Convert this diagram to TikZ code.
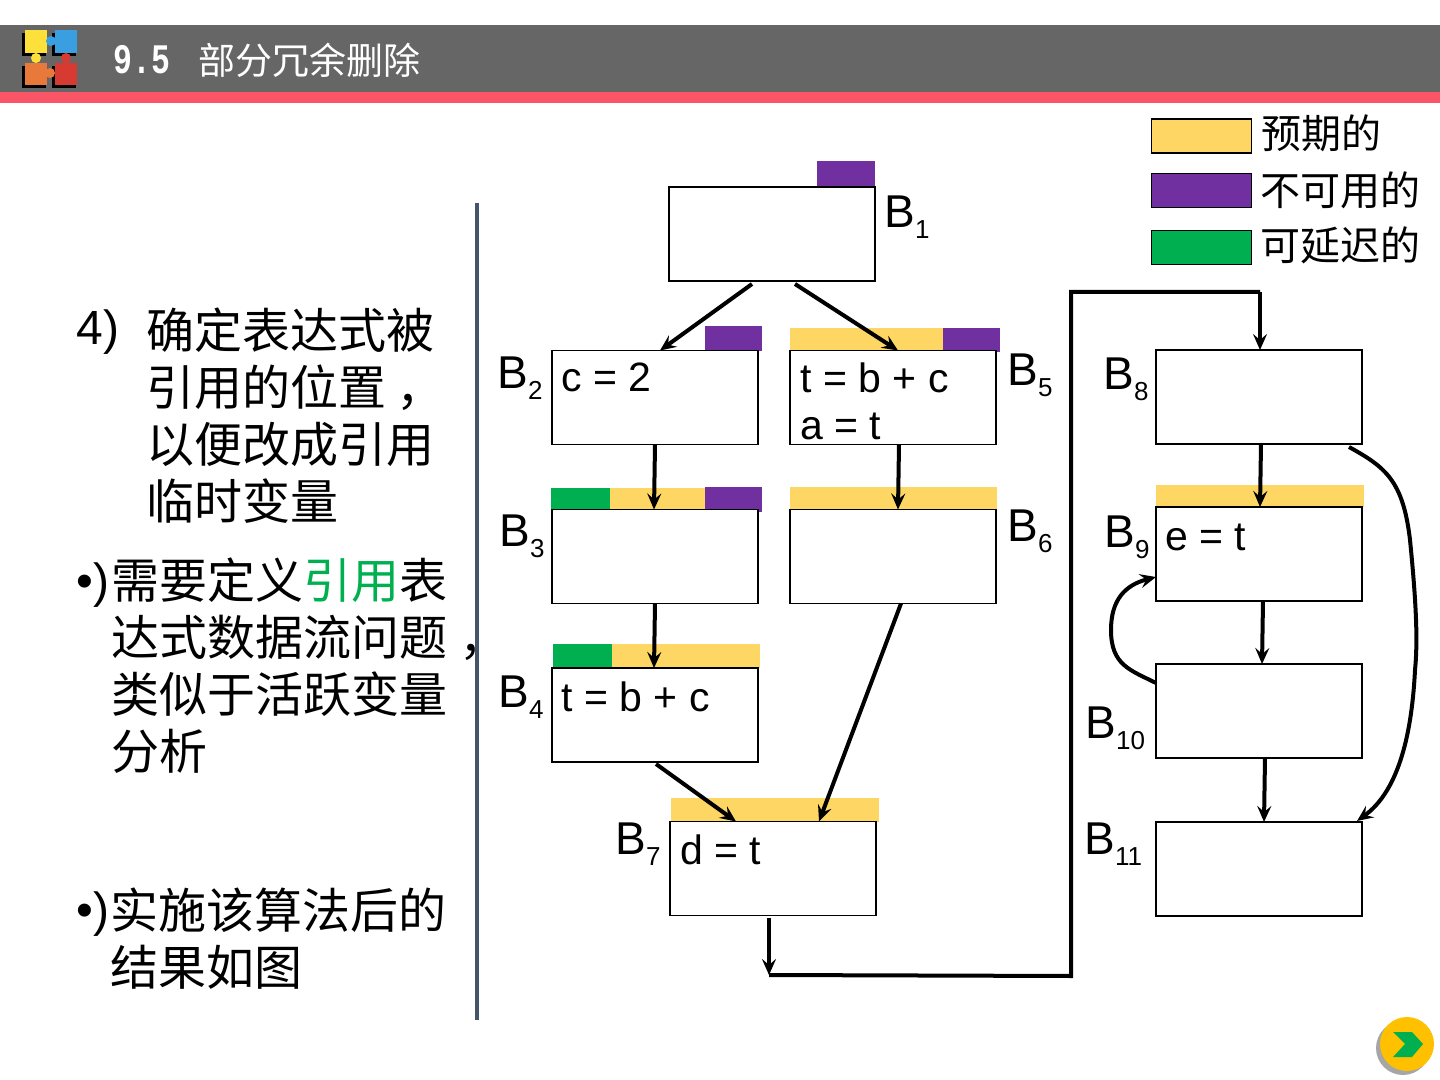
\documentclass[tikz,border=0pt]{standalone}
\usepackage{fontspec}
\setmainfont{Liberation Sans}
\newfontfamily\cjk{Noto Sans CJK SC}
\newfontfamily\titlemono[FakeStretch=0.75]{Liberation Mono}
\usetikzlibrary{arrows.meta,calc}

\definecolor{expected}{HTML}{FDD663}
\definecolor{unavailable}{HTML}{7030A0}
\definecolor{postponable}{HTML}{00B050}
\definecolor{headergray}{HTML}{666666}
\definecolor{headerred}{HTML}{F95566}
\definecolor{rulecolor}{HTML}{44546A}
\definecolor{logoyellow}{HTML}{FDE13A}
\definecolor{logoblue}{HTML}{3A9FE0}
\definecolor{logoorange}{HTML}{E8793A}
\definecolor{logored}{HTML}{D63A30}
\definecolor{buttongold}{HTML}{FFC000}

\newcommand{\blocklabel}[1]{B\raisebox{-5.5pt}{\fontsize{13}{13}\selectfont #1}}

\begin{document}
\begin{tikzpicture}[x=0.5pt, y=-0.5pt,
  blockbox/.style={draw, line width=0.8pt, fill=white, minimum width=103pt, minimum height=47pt, inner sep=0pt, outer sep=0pt},
  heavybox/.style={blockbox, line width=1.2pt},
  blockname/.style={anchor=base west, inner sep=0pt, font=\fontsize{23}{23}\selectfont},
  codeline/.style={anchor=base west, inner sep=0pt, font=\fontsize{20.5}{20.5}\selectfont},
  bodytext/.style={anchor=north west, inner sep=0pt, align=left, font=\cjk\fontsize{24}{28.5}\selectfont},
  bodymark/.style={anchor=base west, inner sep=0pt, font=\fontsize{24}{24}\selectfont},
  legendbox/.style={draw, line width=0.7pt, minimum width=50pt, minimum height=17pt, inner sep=0pt},
  legendtext/.style={anchor=west, inner sep=0pt, font=\cjk\fontsize{20}{20}\selectfont},
  flow/.style={line width=2pt, -{Stealth[length=8pt, width=7pt, inset=3pt]}},
  flowline/.style={line width=2pt}]
  \useasboundingbox (0,0) rectangle (1440,1080);

  % header
  \fill[headergray] (0,25) rectangle (1440,92);
  \fill[headerred] (0,92) rectangle (1440,103);
  \fill[black] (22,33) rectangle (46,56);
  \fill[black] (52,33) rectangle (76,56);
  \fill[black] (22,66) rectangle (46,88);
  \fill[black] (52,66) rectangle (76,88);
  \fill[logoyellow] (25,30) rectangle (47,53);
  \fill[logoblue] (55,30) rectangle (77,53);
  \fill[logoorange] (25,63) rectangle (47,85);
  \fill[logored] (55,63) rectangle (77,85);
  \fill[logoyellow] (36,58) circle (5);
  \fill[logoblue] (51,41) circle (5);
  \fill[logoorange] (50,73) circle (5);
  \fill[logored] (66,58) circle (5);
  \node[anchor=west, inner sep=0pt, text=white, font=\titlemono\bfseries\fontsize{21}{21}\selectfont] (chapter) at (113,60) {9.5};
  \node[anchor=west, inner sep=0pt, text=white, font=\cjk\fontsize{18.5}{18.5}\selectfont] (title) at (198,60) {部分冗余删除};

  % left column
  \node[bodymark] (num4) at (76,345) {4)};
  \node[bodytext] (step4) at (146,307) {确定表达式被\\引用的位置\kern5pt ，\\以便改成引用\\临时变量};
  \node[bodymark] (dot1) at (76,597) {•)};
  \node[bodytext] (para1) at (111,557) {需要定义\textcolor{postponable}{引用}表\\达式数据流问题\kern6pt ，\\类似于活跃变量\\分析};
  \node[bodymark] (dot2) at (76,926) {•)};
  \node[bodytext] (para2) at (110,887) {实施该算法后的\\结果如图};
  \draw[rulecolor, line width=2pt] (477,203) -- (477,1020);

  % legend
  \node[legendbox, fill=expected] (legend1) at (1201.5,136) {};
  \node[legendbox, fill=unavailable] (legend2) at (1201.5,190.5) {};
  \node[legendbox, fill=postponable] (legend3) at (1201.5,247.5) {};
  \node[legendtext] (legendname1) at (1261,133) {预期的};
  \node[legendtext] (legendname2) at (1260,190) {不可用的};
  \node[legendtext] (legendname3) at (1260,245) {可延迟的};

  % bars over the blocks
  \fill[unavailable] (817,161) rectangle (875,187);
  \fill[unavailable] (705,326) rectangle (762,351);
  \fill[expected] (790,328) rectangle (943,351);
  \fill[unavailable] (943,328) rectangle (1000,352);
  \fill[postponable] (551,488) rectangle (610,511);
  \fill[expected] (610,488) rectangle (705,510);
  \fill[unavailable] (705,487) rectangle (762,512);
  \fill[expected] (790,487) rectangle (997,510);
  \fill[postponable] (553,644) rectangle (612,668);
  \fill[expected] (612,644) rectangle (760,668);
  \fill[expected] (671,798) rectangle (879,822);
  \fill[expected] (1156,485) rectangle (1364,507);

  % blocks
  \node[heavybox] (B1) at (772,234) {};
  \node[blockbox] (B2) at (655,397.5) {};
  \node[blockbox] (B3) at (655,556.5) {};
  \node[blockbox] (B4) at (655,715) {};
  \node[blockbox] (B5) at (893,397.5) {};
  \node[blockbox] (B6) at (893,556.5) {};
  \node[blockbox] (B7) at (773,868.5) {};
  \node[heavybox] (B8) at (1259,397) {};
  \node[heavybox] (B9) at (1259,554) {};
  \node[heavybox] (B10) at (1259,711) {};
  \node[heavybox] (B11) at (1259,869) {};

  \node[blockname] (nameB1) at (884,228) {\blocklabel{1}};
  \node[blockname] (nameB2) at (497,389) {\blocklabel{2}};
  \node[blockname] (nameB3) at (499,546) {\blocklabel{3}};
  \node[blockname] (nameB4) at (498,707) {\blocklabel{4}};
  \node[blockname] (nameB5) at (1007,386) {\blocklabel{5}};
  \node[blockname] (nameB6) at (1007,541) {\blocklabel{6}};
  \node[blockname] (nameB7) at (615,854) {\blocklabel{7}};
  \node[blockname] (nameB8) at (1103,390) {\blocklabel{8}};
  \node[blockname] (nameB9) at (1104,547) {\blocklabel{9}};
  \node[blockname] (nameB10) at (1085,738) {\blocklabel{10}};
  \node[blockname] (nameB11) at (1084,854) {\blocklabel{11}};

  \node[codeline] (codeB2) at (561,392) {c = 2};
  \node[codeline] (codeB5a) at (800,393) {t = b + c};
  \node[codeline] (codeB5b) at (800,439) {a = t};
  \node[codeline] (codeB4) at (561,711) {t = b + c};
  \node[codeline] (codeB7) at (680,864) {d = t};
  \node[codeline] (codeB9) at (1165,550) {e = t};

  % connectors
  \coordinate (down7) at (769,975);
  \coordinate (turn1) at (1071,976);
  \coordinate (turn2) at (1071,292);
  \coordinate (turn3) at (1260,292);

  \draw[flow] ($(B1.south)+(-20,3)$) -- ($(B2.north)+(5,0)$);
  \draw[flow] ($(B1.south)+(23,3)$) -- ($(B5.north)+(5,0)$);
  \draw[flow] (B2.south) -- ($(B3.north)+(-1,0)$);
  \draw[flow] ($(B5.south)+(6,0)$) -- ($(B6.north)+(5,0)$);
  \draw[flow] (B3.south) -- ($(B4.north)+(-1,0)$);
  \draw[flow] ($(B6.south)+(8,0)$) -- ($(B7.north)+(46,0)$);
  \draw[flow] ($(B4.south)+(1,2)$) -- ($(B7.north)+(-37,0)$);
  \draw[flow] ($(B7.south)+(-4,2)$) -- (down7);
  \draw[flowline] (down7) -- (turn1) -- (turn2) -- (turn3);
  \draw[flow] (turn3) -- ($(B8.north)+(1,0)$);
  \draw[flow] ($(B8.south)+(2,0)$) -- ($(B9.north)+(1,0)$);
  \draw[flow] ($(B9.south)+(4,0)$) -- ($(B10.north)+(3,0)$);
  \draw[flow] ($(B10.south)+(6,0)$) -- ($(B11.north)+(5,0)$);
  \draw[flow] ($(B8.south east)+(-13,3)$) .. controls (1385,467) and (1403,480) .. (1410,540) .. controls (1416,600) and (1418,640) .. (1415,670) .. controls (1412,730) and (1400,790) .. ($(B11.north east)+(-5,-1)$);
  \draw[flow] ($(B10.north west)+(0,19)$) .. controls (1130,670) and (1111,665) .. (1111,630) .. controls (1111,600) and (1125,585) .. ($(B9.south west)+(0,-24)$);

  % next button
  \fill[gray!70] (1403,1048) circle (27);
  \fill[buttongold] (1407,1044) circle (27);
  \fill[postponable] (1393,1032) -- (1412,1032) -- (1423,1044) -- (1412,1057) -- (1393,1057) -- (1405,1044) -- cycle;
\end{tikzpicture}
\end{document}
